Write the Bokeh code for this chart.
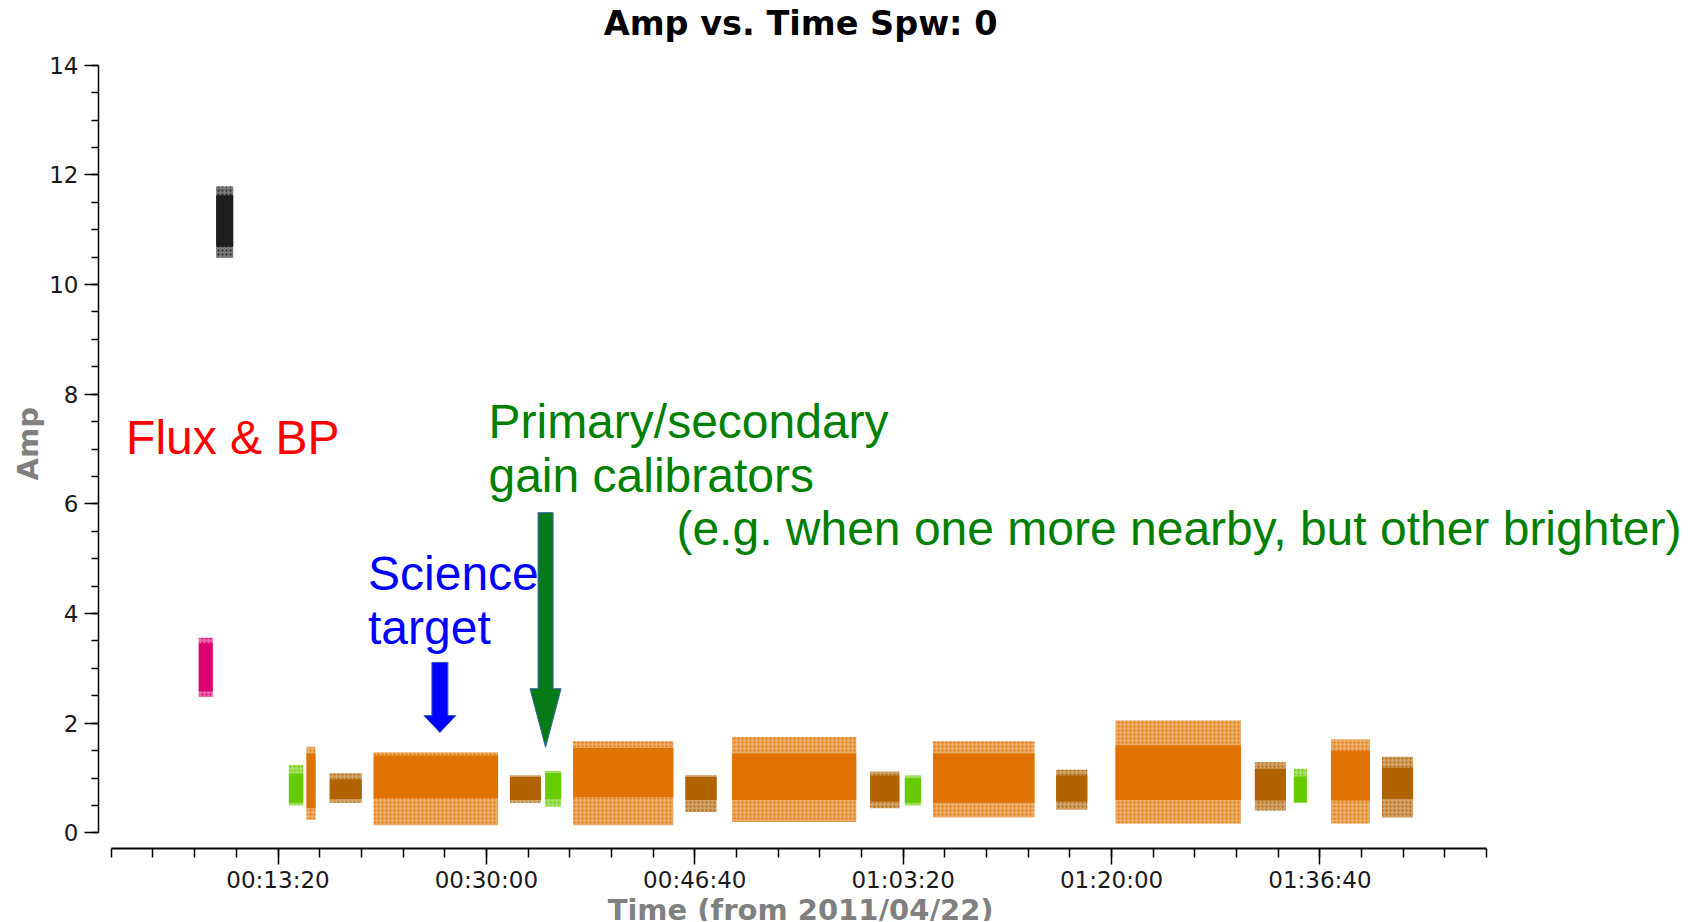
from bokeh.plotting import figure
from bokeh.models import FixedTicker, Label, Title
from bokeh.embed import file_html
from bokeh.resources import INLINE

# ---------------- data (time in seconds from start, amplitude) ----------------
scan_start = [420, 503, 852, 937, 1048, 1259, 1913, 2082, 2216, 2755, 2979, 3642, 3808,
              3943, 4534, 4819, 5488, 5675, 5853, 6098]
scan_end = [487, 585, 921, 980, 1202, 1856, 2062, 2159, 2697, 2905, 3575, 3782, 3886,
            4430, 4684, 5421, 5637, 5737, 6040, 6247]
core_lo = [2.58, 10.69, 0.55, 0.45, 0.62, 0.63, 0.60, 0.62, 0.65, 0.60, 0.60, 0.57, 0.55,
           0.55, 0.57, 0.60, 0.59, 0.56, 0.59, 0.62]
core_hi = [3.46, 11.63, 1.08, 1.45, 0.98, 1.41, 1.02, 1.09, 1.55, 1.02, 1.45, 1.05, 1.00,
           1.45, 1.05, 1.60, 1.17, 1.03, 1.50, 1.19]
env_lo = [2.48, 10.49, 0.50, 0.24, 0.55, 0.14, 0.55, 0.48, 0.14, 0.38, 0.20, 0.45, 0.50,
          0.28, 0.42, 0.17, 0.41, 0.55, 0.17, 0.28]
env_hi = [3.56, 11.79, 1.24, 1.57, 1.09, 1.47, 1.05, 1.13, 1.67, 1.05, 1.75, 1.12, 1.05,
          1.67, 1.15, 2.05, 1.29, 1.17, 1.71, 1.39]
scan_field = ["flux", "bandpass", "gain2", "target", "gain1", "target", "gain1", "gain2",
              "target", "gain1", "target", "gain1", "gain2", "target", "gain1", "target",
              "gain1", "gain2", "target", "gain1"]

x_tick_values = [800, 1800, 2800, 3800, 4800, 5800]
x_tick_labels = ["00:13:20", "00:30:00", "00:46:40", "01:03:20", "01:20:00", "01:36:40"]
y_tick_values = [0, 2, 4, 6, 8, 10, 12, 14]

# annotations (text, time, amp at text middle)
ann_text = ["Flux & BP", "Primary/secondary", "gain calibrators",
            "(e.g. when one more nearby, but other brighter)", "Science", "target"]
ann_t = [71, 1810, 1810, 2712, 1232, 1232]
ann_amp = [7.215, 7.50, 6.52, 5.55, 4.732, 3.75]
ann_color = ["#ff0000", "#008000", "#008000", "#008000", "#0000ff", "#0000ff"]

# arrows: time, tail amp, neck amp, tip amp
arrow_t = [1577, 2084]
arrow_tail = [3.11, 5.84]
arrow_neck = [2.14, 2.63]
arrow_tip = [1.83, 1.56]
arrow_color = ["#0000ff", "#067a16"]

# ---------------- styles / layout ----------------
field_color = {"flux": "#dc0070", "bandpass": "#1e1e1e", "gain2": "#66cc00",
               "gain1": "#b06300", "target": "#df7200"}
colors = [field_color[f] for f in scan_field]

W, H = 1692, 921
LEFT = 98
X0, X1 = -61.4, 7588.0
Y0, Y1 = -1.616, 15.181
px_per_s = (W - LEFT) / (X1 - X0)

p = figure(width=W, height=H, x_range=(X0, X1), y_range=(Y0, Y1),
           output_backend="svg", toolbar_location=None,
           min_border_left=LEFT, min_border_right=0, min_border_top=0, min_border_bottom=0)
p.grid.visible = False
p.outline_line_color = None
p.background_fill_color = "white"
p.border_fill_color = "white"

# scans: sparse envelope then dense core
p.quad(left=scan_start, right=scan_end, bottom=env_lo, top=env_hi,
       fill_color=colors, fill_alpha=0.6, line_color=None,
       hatch_pattern=".", hatch_color=colors, hatch_scale=4, hatch_weight=2)
p.quad(left=scan_start, right=scan_end, bottom=core_lo, top=core_hi,
       fill_color=colors, line_color=None)

# arrows
shaft_px = [16, 15]
head_px = [32, 31]
axs, ays = [], []
for t, tl, nk, tp, sp, hp in zip(arrow_t, arrow_tail, arrow_neck, arrow_tip, shaft_px, head_px):
    hs = sp / 2 / px_per_s
    hh = hp / 2 / px_per_s
    axs.append([t - hs, t + hs, t + hs, t + hh, t, t - hh, t - hs])
    ays.append([tl, tl, nk, nk, tp, nk, nk])
p.patches(axs, ays, fill_color=arrow_color, line_color="#3465a4", line_width=1)

# annotation texts
for txt, t, a, c in zip(ann_text, ann_t, ann_amp, ann_color):
    p.add_layout(Label(x=t, y=a, text=txt, text_color=c, text_font="Liberation Sans",
                       text_font_size="48px", text_align="left", text_baseline="middle"))

# title and x label (inside the frame)
p.add_layout(Label(x=3308, y=14.76, text="Amp vs. Time Spw: 0", text_font="DejaVu Sans",
                   text_font_style="bold", text_font_size="33.5px", text_color="#000000",
                   text_align="center", text_baseline="middle"))
p.add_layout(Label(x=3308, y=-1.40, text="Time (from 2011/04/22)", text_font="DejaVu Sans",
                   text_font_style="bold", text_font_size="29px", text_color="#808080",
                   text_align="center", text_baseline="middle"))

# axes
xa = p.xaxis[0]
xa.fixed_location = -0.277
xa.ticker = FixedTicker(ticks=x_tick_values, minor_ticks=list(range(0, 6601, 200)))
xa.major_label_overrides = {v: l for v, l in zip(x_tick_values, x_tick_labels)}
xa.bounds = (0, 6600)
xa.axis_line_width = 2
xa.major_tick_in = 0
xa.major_tick_out = 16
xa.minor_tick_in = 0
xa.minor_tick_out = 9
xa.major_tick_line_width = 1.5
xa.minor_tick_line_width = 1.5
xa.major_label_standoff = 3
xa.major_label_text_font = "DejaVu Sans"
xa.major_label_text_font_size = "23px"
xa.major_label_text_color = "#1a1a1a"

ya = p.yaxis[0]
ya.ticker = FixedTicker(ticks=y_tick_values, minor_ticks=[i * 0.5 for i in range(29)])
ya.bounds = (0, 14)
ya.axis_line_width = 1.5
ya.major_tick_in = 0
ya.major_tick_out = 14
ya.minor_tick_in = 0
ya.minor_tick_out = 7
ya.major_tick_line_width = 1.5
ya.minor_tick_line_width = 1.5
ya.major_label_standoff = 6
ya.major_label_text_font = "DejaVu Sans"
ya.major_label_text_font_size = "23px"
ya.major_label_text_color = "#1a1a1a"

p.add_layout(Title(text="Amp", align="left", offset=441, standoff=4,
                   text_font="DejaVu Sans", text_font_style="bold",
                   text_font_size="29px", text_color="#808080"), "left")

open("out.html", "w").write(file_html(p, INLINE))
